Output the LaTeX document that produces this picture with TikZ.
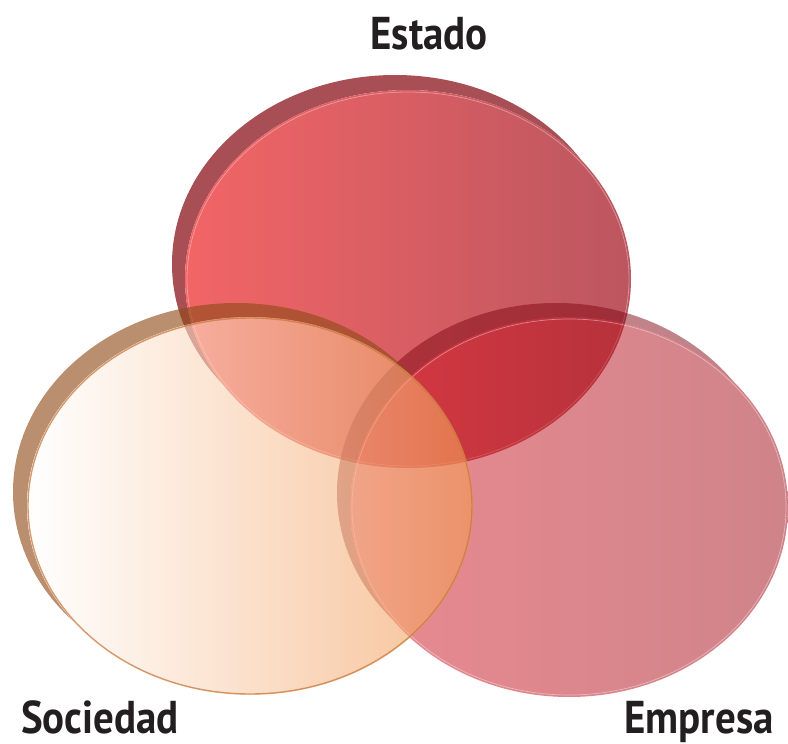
\documentclass[tikz,border=0pt]{standalone}
\usepackage{fontspec}
\setmainfont{PT Sans}
\newfontfamily\labfont[FakeStretch=0.89]{PT Sans Bold}
\definecolor{txt}{HTML}{231F20}
\definecolor{estL}{HTML}{F26566}
\definecolor{estR}{HTML}{BC5660}
\definecolor{estRim}{HTML}{A84E55}
\definecolor{empL}{HTML}{D31521}
\definecolor{empR}{HTML}{9F0915}
\definecolor{empRim}{HTML}{7F0713}
\definecolor{socR}{HTML}{F29A55}
\definecolor{socRim}{HTML}{8F4A18}
\definecolor{socLine}{HTML}{C87A40}
\begin{document}
\begin{tikzpicture}[x=1pt,y=-1pt,
  lab/.style={font=\labfont\fontsize{46}{48}\selectfont, text=txt, inner sep=0pt, anchor=base}]
\useasboundingbox (0,0) rectangle (788,744);
% ---------- Estado ----------
\begin{scope}[even odd rule]
  \clip (-10,-10) rectangle (800,760) (408,279) ellipse [x radius=223, y radius=189];
  \fill[estRim] (395,264) ellipse [x radius=223, y radius=189];
\end{scope}
\shade[left color=estL, right color=estR] (408,279) ellipse [x radius=223, y radius=189];
\draw[white, draw opacity=0.35, line width=0.8] (408,279) ellipse [x radius=221, y radius=187];
% ---------- Empresa ----------
\begin{scope}[even odd rule]
  \clip (-10,-10) rectangle (800,760) (569,507) ellipse [x radius=219, y radius=190];
  \fill[empRim, fill opacity=0.5] (556,493) ellipse [x radius=219, y radius=190];
\end{scope}
\shade[left color=empL, right color=empR, fill opacity=0.5] (569,507) ellipse [x radius=219, y radius=190];
\draw[white, draw opacity=0.4, line width=0.7] (569,507) ellipse [x radius=217, y radius=188];
% ---------- Sociedad ----------
\begin{scope}[even odd rule]
  \clip (-10,-10) rectangle (800,760) (250,506) ellipse [x radius=223, y radius=189];
  \fill[socRim, fill opacity=0.62] (236,492) ellipse [x radius=223, y radius=189];
\end{scope}
\shade[left color=white, right color=socR, fill opacity=0.62] (250,506) ellipse [x radius=223, y radius=189];
\draw[socLine, draw opacity=0.75, line width=1.4] (250,506) ellipse [x radius=222, y radius=188];
% ---------- Labels ----------
\node[lab] (estado) at (429,49) {Estado};
\node[lab] (sociedad) at (100,733) {Sociedad};
\node[lab] (empresa) at (699,733) {Empresa};
\end{tikzpicture}
\end{document}
